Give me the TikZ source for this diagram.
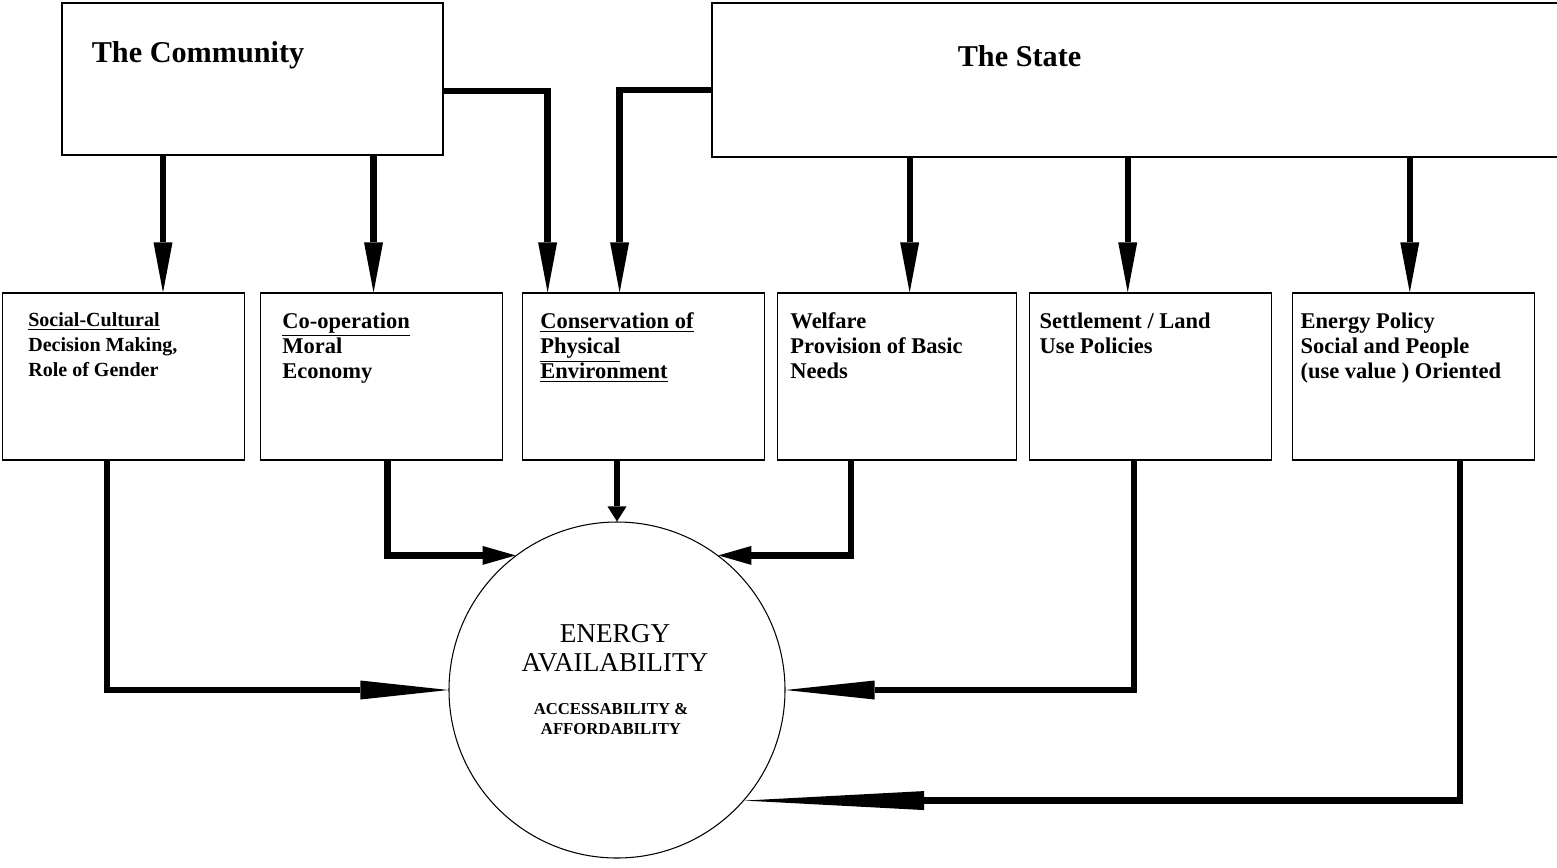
\documentclass[tikz,border=0pt]{standalone}
\usepackage{fontspec}
\setmainfont{Liberation Serif}
\usetikzlibrary{arrows.meta,positioning}

\begin{document}
\begin{tikzpicture}[
      big/.style={draw, line width=0.6pt, inner sep=0pt},
      box/.style={draw, line width=0.6pt, inner sep=0pt,
                  minimum width=4.84cm, minimum height=3.34cm},
      txt/.style={anchor=north west, inner sep=0pt, align=left,
                  font=\fontsize{12.8}{14.2}\selectfont\bfseries},
      ttl/.style={anchor=north west, inner sep=0pt,
                  font=\fontsize{17.2}{20}\selectfont\bfseries},
      arr/.style={line width=3.6pt,
                  -{Triangle[length=#1, width=0.38cm, line width=0pt]}},
      arr/.default=1cm
  ]
    \useasboundingbox (0,0) rectangle (31.14,-17.34);
    % the two sources
    \node[big, minimum width=7.62cm, minimum height=3.04cm] (comm) at (5.05,-1.58) {};
    \node[big, minimum width=17.06cm, minimum height=3.08cm] (state) at (22.77,-1.60) {};
    \node[ttl] (commtxt) at ([shift={(0.6,-0.78)}]comm.north west) {The Community};
    \node[ttl] (statetxt) at ([shift={(4.92,-0.86)}]state.north west) {The State};

    % middle row
    \node[box] (sc) at (2.47,-7.53) {};
    \node[box, right=0.30cm of sc] (coop) {};
    \node[box, right=0.38cm of coop] (cons) {};
    \node[box, minimum width=4.78cm, right=0.24cm of cons] (welf) {};
    \node[box, right=0.24cm of welf] (settl) {};
    \node[box, right=0.40cm of settl] (epol) {};
    \node[txt, font=\fontsize{11.4}{14.2}\selectfont\bfseries] (sctxt)
      at ([shift={(0.52,-0.40)}]sc.north west)
      {\underline{Social-Cultural}\\ Decision Making,\\ Role of Gender};
    \node[txt] (cooptxt) at ([shift={(0.44,-0.40)}]coop.north west)
      {\underline{Co-operation}\\ Moral\\ Economy};
    \node[txt] (constxt) at ([shift={(0.36,-0.40)}]cons.north west)
      {\underline{Conservation of}\\ \underline{Physical}\\ \underline{Environment}};
    \node[txt] (welftxt) at ([shift={(0.26,-0.40)}]welf.north west)
      {Welfare\\ Provision of Basic\\ Needs};
    \node[txt] (settltxt) at ([shift={(0.20,-0.40)}]settl.north west)
      {Settlement / Land\\ Use Policies};
    \node[txt] (epoltxt) at ([shift={(0.16,-0.40)}]epol.north west)
      {Energy Policy\\ Social and People\\ (use value ) Oriented};

    % the target
    \node[draw, circle, line width=0.6pt, minimum size=6.72cm, inner sep=0pt] (avail) at (12.34,-13.80) {};
    \node[align=center, font=\fontsize{15.5}{16.5}\selectfont] (avtxt) at (12.30,-12.97)
      {ENERGY\\ AVAILABILITY};
    \node[align=center, font=\fontsize{9.5}{11.4}\selectfont\bfseries] (avsub) at (12.22,-14.39)
      {ACCESSABILITY \&\\ AFFORDABILITY};

    % arrows into the middle row
    \coordinate (a1) at ([xshift=0.79cm]sc.north);
    \coordinate (a2) at ([xshift=-0.16cm]coop.north);
    \coordinate (a3) at ([xshift=-1.92cm]cons.north);
    \coordinate (a4) at ([xshift=-0.48cm]cons.north);
    \coordinate (a5) at ([xshift=0.25cm]welf.north);
    \coordinate (a6) at ([xshift=-0.46cm]settl.north);
    \coordinate (a7) at ([xshift=-0.08cm]epol.north);
    \draw[arr] (a1 |- comm.south) -- (a1);
    \draw[arr] (a2 |- comm.south) -- (a2);
    \draw[arr] ([yshift=-0.24cm]comm.east) -| (a3);
    \draw[arr] ([yshift=-0.20cm]state.west) -| (a4);
    \draw[arr] (a5 |- state.south) -- (a5);
    \draw[arr] (a6 |- state.south) -- (a6);
    \draw[arr] (a7 |- state.south) -- (a7);

    % arrows into the circle
    \draw[arr=1.76cm] ([xshift=-0.33cm]sc.south) |- (avail.west);
    \draw[arr=0.66cm] ([xshift=0.12cm]coop.south) |- (avail.127);
    \draw[arr=0.30cm] (cons.south -| avail.north) -- (avail.north);
    \draw[arr=0.66cm] ([xshift=-0.93cm]welf.south) |- (avail.53);
    \draw[arr=1.78cm] ([xshift=-0.34cm]settl.south) |- (avail.east);
    \draw[arr=3.60cm] ([xshift=0.92cm]epol.south) |- (avail.-41);
  \end{tikzpicture}
\end{document}
